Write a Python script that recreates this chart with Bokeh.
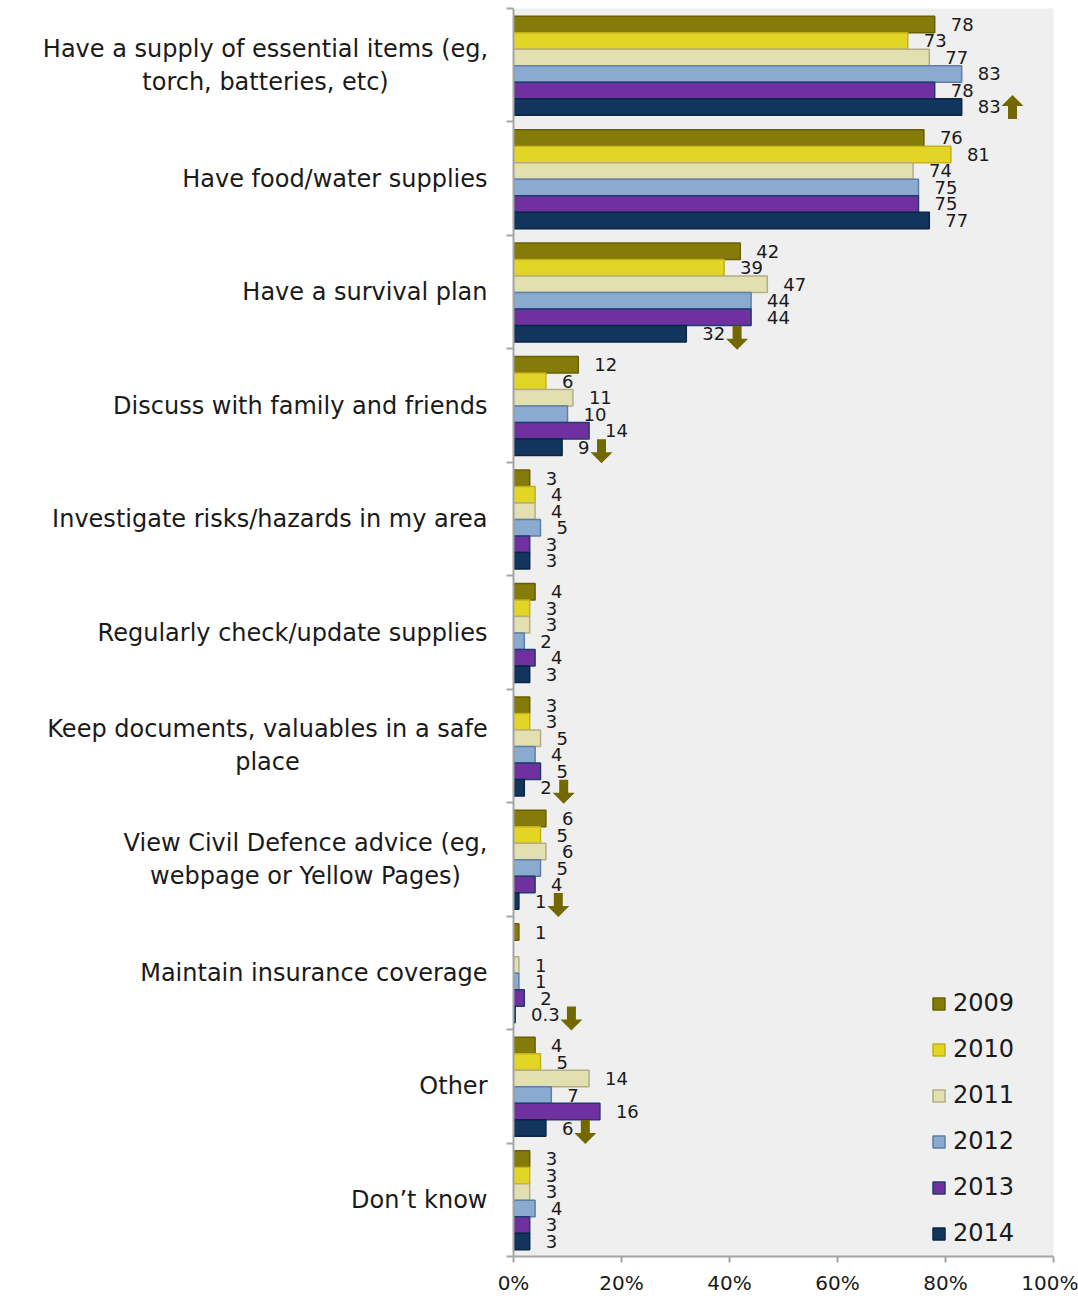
from bokeh.plotting import figure
from bokeh.layouts import row
from bokeh.models import ColumnDataSource, Range1d, FixedTicker, Legend, LegendItem
from bokeh.core.properties import value
from bokeh.embed import file_html
from bokeh.resources import INLINE

# ---------------- data ----------------
categories = [
    "Have a supply of essential items (eg,\ntorch, batteries, etc)",
    "Have food/water supplies",
    "Have a survival plan",
    "Discuss with family and friends",
    "Investigate risks/hazards in my area",
    "Regularly check/update supplies",
    "Keep documents, valuables in a safe\nplace",
    "View Civil Defence advice (eg,\nwebpage or Yellow Pages)",
    "Maintain insurance coverage",
    "Other",
    "Don\u2019t know",
]
years = ["2009", "2010", "2011", "2012", "2013", "2014"]
v2009 = [78, 76, 42, 12, 3, 4, 3, 6, 1, 4, 3]
v2010 = [73, 81, 39, 6, 4, 3, 3, 5, None, 5, 3]
v2011 = [77, 74, 47, 11, 4, 3, 5, 6, 1, 14, 3]
v2012 = [83, 75, 44, 10, 5, 2, 4, 5, 1, 7, 4]
v2013 = [78, 75, 44, 14, 3, 4, 5, 4, 2, 16, 3]
v2014 = [83, 77, 32, 9, 3, 3, 2, 1, 0.3, 6, 3]
change_2014 = ["up", None, "down", "down", None, None, "down", "down", "down", "down", None]
x_ticks = [0, 20, 40, 60, 80, 100]
x_tick_labels = ["0%", "20%", "40%", "60%", "80%", "100%"]

series = [v2009, v2010, v2011, v2012, v2013, v2014]
fills = ["#857B08", "#E3D526", "#E2DFB0", "#8AAACF", "#7030A0", "#12355E"]
edges = ["#6A6000", "#C2B21C", "#B3AE86", "#5E7EA6", "#1F3C6E", "#0B2544"]
arrow_color = "#736800"

FONT = "DejaVu Sans"
TXT = "#1A1A1A"
n_cat = len(categories)

# geometry (pixels)
LW = 493                 # width of the label panel
LEFT = 20                # main plot left border (holds the category axis)
W, H = 585, 1297         # main plot canvas
RIGHT, TOP, BOTTOM = 25, 8, 41
frame_w = W - LEFT - RIGHT
frame_h = H - TOP - BOTTOM
px_x = frame_w / 100.0
px_y = frame_h / n_cat
top_gap = 7.7 / 113.8
bar_h = 16.55 / 113.8

yr = Range1d(0, n_cat)
p = figure(width=W, height=H, x_range=Range1d(0, 100), y_range=yr,
           output_backend="svg", toolbar_location=None,
           min_border_left=LEFT, min_border_right=RIGHT, min_border_top=TOP, min_border_bottom=BOTTOM)
p.background_fill_color = "#EFEFEF"
p.border_fill_color = "white"
p.outline_line_color = None
p.xgrid.visible = False
p.ygrid.visible = False

renderers = []
for j, (vals, fc, ec) in enumerate(zip(series, fills, edges)):
    ys, xs, labs = [], [], []
    for i, v in enumerate(vals):
        if v is None:
            continue
        ys.append(n_cat - i - top_gap - bar_h * (j + 0.5))
        xs.append(v)
        labs.append(str(int(v)) if float(v).is_integer() else str(v))
    src = ColumnDataSource(dict(y=ys, right=xs, lab=labs,
                                lx=[x + 16 / px_x for x in xs]))
    r = p.hbar(y="y", right="right", left=0, height=bar_h, source=src,
               fill_color=fc, line_color=ec, line_width=1.5)
    renderers.append(r)
    p.text(x="lx", y="y", text="lab", source=src, text_font=value(FONT),
           text_font_size="18px", text_align="left", text_baseline="middle",
           text_color=TXT)

# significance arrows after the 2014 labels
axs, ays = [], []
for i, ch in enumerate(change_2014):
    if ch is None:
        continue
    v = v2014[i]
    s = str(int(v)) if float(v).is_integer() else str(v)
    w = sum(5.5 if c == "." else 11.4 for c in s)
    cx = v + (16 + w + 12) / px_x
    cy = n_cat - i - top_gap - bar_h * 5.5
    if ch == "down":
        cy -= 4 / px_y
        pts = [(-4.5, -12), (4.5, -12), (4.5, 1), (11, 1), (0, 12), (-11, 1), (-4.5, 1)]
    else:
        pts = [(-4.5, 12), (4.5, 12), (4.5, -1), (11, -1), (0, -12), (-11, -1), (-4.5, -1)]
    axs.append([cx + dx / px_x for dx, dy in pts])
    ays.append([cy - dy / px_y for dx, dy in pts])
p.patches(axs, ays, fill_color=arrow_color, line_color=None)

# axes
p.xaxis.ticker = FixedTicker(ticks=x_ticks)
p.xaxis.major_label_overrides = {t: l for t, l in zip(x_ticks, x_tick_labels)}
p.xaxis.major_label_text_font = FONT
p.xaxis.major_label_text_font_size = "20px"
p.xaxis.major_label_text_color = TXT
p.xaxis.axis_line_color = "#A6A6A6"
p.xaxis.axis_line_width = 2
p.xaxis.major_tick_line_color = "#A6A6A6"
p.xaxis.major_tick_line_width = 2
p.xaxis.major_tick_in = 0
p.xaxis.major_tick_out = 6
p.xaxis.minor_tick_line_color = None
p.xaxis.major_label_standoff = 8

p.yaxis.ticker = FixedTicker(ticks=list(range(n_cat + 1)))
p.yaxis.major_label_text_alpha = 0
p.yaxis.major_label_text_font_size = "1px"
p.yaxis.major_label_standoff = 1
p.yaxis.axis_line_color = "#A6A6A6"
p.yaxis.axis_line_width = 2
p.yaxis.major_tick_line_color = "#A6A6A6"
p.yaxis.major_tick_line_width = 2
p.yaxis.major_tick_in = 0
p.yaxis.major_tick_out = 7
p.yaxis.minor_tick_line_color = None

legend = Legend(items=[LegendItem(label=y, renderers=[r]) for y, r in zip(years, renderers)],
                location=(418, 9), border_line_color=None, background_fill_alpha=0,
                glyph_width=15, glyph_height=15, label_text_font=FONT,
                label_text_font_size="24px", spacing=18, padding=0, margin=0,
                label_standoff=7, label_text_color=TXT)
p.add_layout(legend)

# left panel: category labels
lf = figure(width=LW, height=H, x_range=Range1d(0, LW), y_range=yr,
            output_backend="svg", toolbar_location=None,
            x_axis_type=None, y_axis_type=None,
            min_border_left=0, min_border_right=0, min_border_top=TOP, min_border_bottom=BOTTOM)
lf.outline_line_color = None
lf.xgrid.visible = False
lf.ygrid.visible = False
lf.background_fill_color = "white"
lf.border_fill_color = "white"

single = [(c, n_cat - i - 0.5) for i, c in enumerate(categories) if "\n" not in c]
multi = [(c, n_cat - i - 0.5) for i, c in enumerate(categories) if "\n" in c]
multi_cx = [265, 267, 305]
lf.text(x=[487] * len(single), y=[y for _, y in single], text=[c for c, _ in single],
        text_font=value(FONT), text_font_size="24px", text_align="right",
        text_baseline="middle", text_color=TXT)
lf.text(x=multi_cx, y=[y for _, y in multi], text=[c for c, _ in multi],
        text_font=value(FONT), text_font_size="24px", text_align="center",
        text_baseline="middle", text_color=TXT, text_line_height=1.18)

layout = row(lf, p, spacing=0)
open("out.html", "w").write(file_html(layout, INLINE))
